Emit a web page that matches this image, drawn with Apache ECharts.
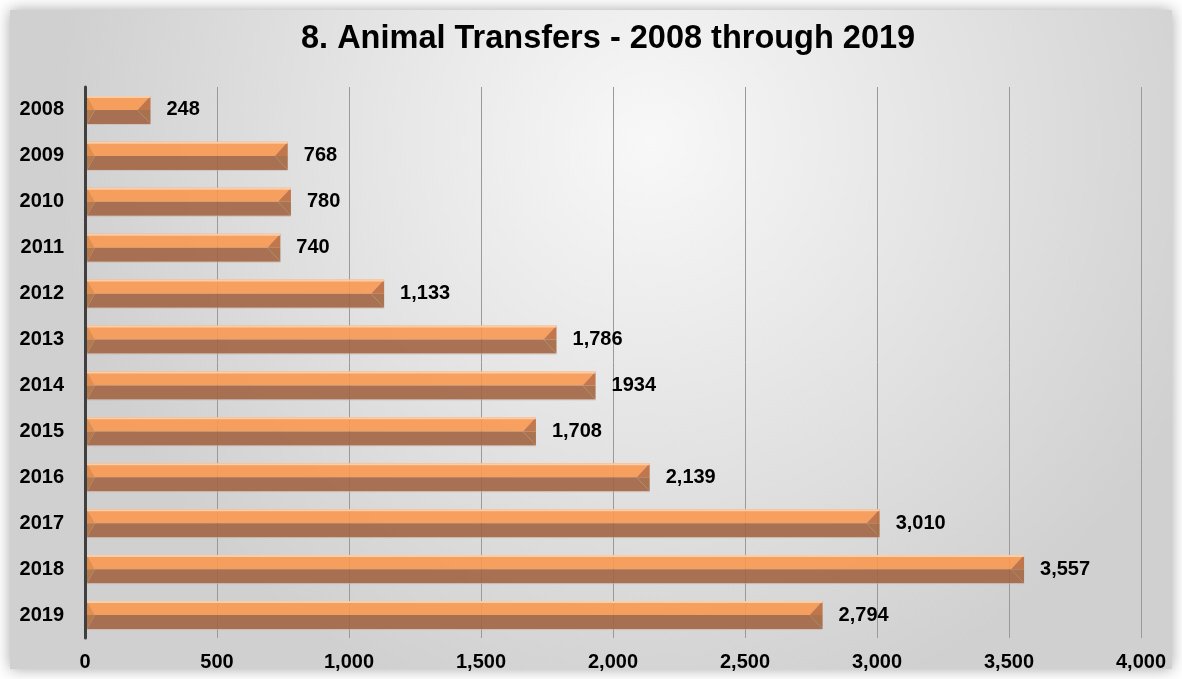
<!DOCTYPE html>
<html>
<head>
<meta charset="utf-8">
<script src="https://cdn.jsdelivr.net/npm/echarts@6/dist/echarts.min.js"></script>
<style>
html,body{margin:0;padding:0;background:#ffffff;}
#chart{width:1182px;height:679px;}
</style>
</head>
<body>
<div id="chart"></div>
<script>
const categories = ['2008','2009','2010','2011','2012','2013','2014','2015','2016','2017','2018','2019'];
const values = [248, 768, 780, 740, 1133, 1786, 1934, 1708, 2139, 3010, 3557, 2794];
const valueLabels = ['248','768','780','740','1,133','1,786','1934','1,708','2,139','3,010','3,557','2,794'];
const xTicks = [0, 500, 1000, 1500, 2000, 2500, 3000, 3500, 4000];
const titleText = '8. Animal Transfers - 2008 through 2019';

const FONT = "'Liberation Sans', Arial, sans-serif";
const chart = echarts.init(document.getElementById('chart'), null, {renderer:'canvas'});

function renderBar(params, api) {
  const idx = api.value(0);
  const v = api.value(1);
  const start = api.coord([0, idx]);
  const end = api.coord([v, idx]);
  const band = api.size([0, 1])[1];
  const h = band * 0.61;
  const x0 = start[0] + 2, x1 = end[0];
  const yc = end[1];
  const y0 = yc - h / 2, y1 = yc + h / 2;
  const lb = 8, rb = 13;
  const op = 0.9;
  return {
    type: 'group',
    children: [
      {type:'polygon', shape:{points:[[x0,y0],[x1,y0],[x1-rb,yc],[x0+lb,yc]]}, style:{fill:'#F89850', opacity:op}},
      {type:'polygon', shape:{points:[[x0+lb,yc],[x1-rb,yc],[x1,y1],[x0,y1]]}, style:{fill:'#A36544', opacity:op}},
      {type:'polygon', shape:{points:[[x0,y0],[x0+lb,yc],[x0,yc]]}, style:{fill:'#E5863F', opacity:op}},
      {type:'polygon', shape:{points:[[x0,yc],[x0+lb,yc],[x0,y1]]}, style:{fill:'#B0703F', opacity:op}},
      {type:'polygon', shape:{points:[[x1,y0],[x1,yc],[x1-rb,yc]]}, style:{fill:'#BE6C3B', opacity:op}},
      {type:'polygon', shape:{points:[[x1-rb,yc],[x1,yc],[x1,y1]]}, style:{fill:'#A3673F', opacity:op}},
      {type:'line', shape:{x1:x0, y1:y0+1, x2:x1, y2:y0+1}, style:{stroke:'#FAD2AE', lineWidth:2, opacity:0.9}},
      {type:'line', shape:{x1:x0, y1:y1+0.5, x2:x1, y2:y1+0.5}, style:{stroke:'#C9B5A8', lineWidth:1, opacity:0.6}},
      {type:'text', style:{text: valueLabels[idx], x: x1 + 16, y: yc, verticalAlign:'middle', align:'left', font:'bold 20px ' + FONT, fill:'#000'}}
    ]
  };
}

const option = {
  animation: false,
  graphic: [
    {
      type:'rect', z:-10, zlevel:0, silent:true,
      shape:{x:10, y:10, width:1162, height:659},
      style:{
        fill:{type:'radial', x:0.55, y:0.2, r:0.9, colorStops:[{offset:0,color:'#F8F8F8'},{offset:1,color:'#D0D0D0'}]},
        shadowBlur:14, shadowColor:'rgba(0,0,0,0.35)', shadowOffsetX:0, shadowOffsetY:0
      }
    }
  ],
  title: {
    text: titleText,
    left: 296,
    top: 18,
    textStyle: {fontFamily: FONT, fontWeight:'bold', fontSize:32.5, color:'#000'}
  },
  grid: {left:85, right:41, top:87, bottom:41, containLabel:false},
  xAxis: {
    type:'value', min:0, max:4000, interval:500,
    axisLine:{show:false}, axisTick:{show:false},
    splitLine:{show:true, lineStyle:{color:'#9A9A9A', width:1}},
    axisLabel:{margin:14, fontFamily:FONT, fontWeight:'bold', fontSize:20, color:'#000',
      formatter: v => xTicks.includes(v) ? v.toLocaleString('en-US') : ''}
  },
  yAxis: {
    type:'category', data:categories, inverse:true,
    axisLine:{show:true, lineStyle:{color:'#404040', width:3}},
    axisTick:{show:false},
    axisLabel:{margin:21, fontFamily:FONT, fontWeight:'bold', fontSize:20, color:'#000'}
  },
  series: [{
    type:'custom',
    renderItem: renderBar,
    encode:{x:1, y:0},
    data: values.map((v,i) => [i, v]),
    z: 3
  }]
};
chart.setOption(option);
</script>
</body>
</html>
